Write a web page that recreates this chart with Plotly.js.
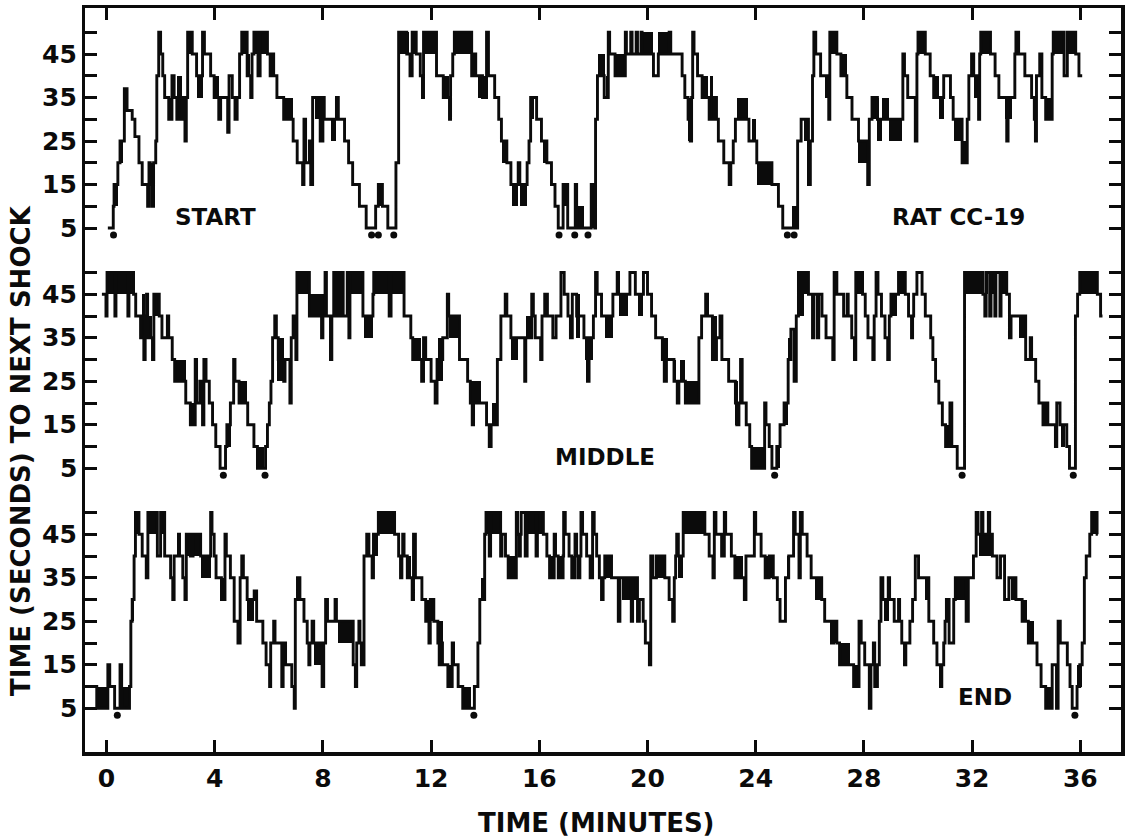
<!DOCTYPE html>
<html>
<head>
<meta charset="utf-8">
<script src="https://cdn.plot.ly/plotly-3.0.1.min.js"></script>
<style>html,body{margin:0;padding:0;background:#fff}#chart{width:1130px;height:837px}</style>
</head>
<body>
<div id="chart"></div>
<script>
// ---------- DATA (time in minutes, value = seconds to next shock) ----------
// step points: [minute, seconds] – value holds until next point
const topSteps = [[0.05,5],[0.25,10],[0.28,15],[0.42,20],[0.5,25],[0.66,37],[0.76,32],[0.95,30],[1.05,26],[1.2,20],[1.32,15],[1.52,10],[1.57,20],[1.62,15],[1.68,10],[1.74,20],[1.82,25],[1.86,40],[1.93,50],[2.0,45],[2.08,40],[2.15,35],[2.3,30],[2.42,40],[2.5,35],[2.6,30],[2.8,35],[2.9,25],[2.95,35],[3.0,50],[3.17,45],[3.33,40],[3.55,50],[3.62,45],[3.85,40],[3.98,35],[4.15,30],[4.22,35],[4.48,27],[4.53,40],[4.65,35],[4.75,30],[4.83,35],[4.92,45],[5.0,50],[5.2,40],[5.33,35],[5.38,45],[5.45,50],[5.6,40],[5.68,50],[5.95,45],[6.05,40],[6.12,45],[6.18,40],[6.3,35],[6.55,30],[6.9,25],[7.05,20],[7.25,15],[7.3,30],[7.36,20],[7.5,25],[7.55,15],[7.62,35],[7.9,25],[8.0,35],[8.05,30],[8.5,35],[8.57,30],[8.8,25],[8.95,20],[9.1,15],[9.35,10],[9.6,5],[9.95,10],[10.05,15],[10.2,10],[10.4,5],[10.7,20],[10.8,50],[11.1,45],[11.22,40],[11.3,50],[11.45,45],[11.6,40],[11.68,35],[11.72,50],[12.2,40],[12.45,35],[12.68,30],[12.72,40],[12.8,45],[12.86,50],[13.5,40],[13.6,45],[13.65,40],[13.9,35],[14.05,50],[14.12,40],[14.35,35],[14.5,30],[14.6,25],[14.8,20],[14.95,15],[15.22,20],[15.28,15],[15.55,20],[15.62,25],[15.68,35],[15.9,30],[16.08,25],[16.28,20],[16.45,15],[16.58,10],[16.7,5],[16.88,15],[17.05,5],[17.33,15],[17.38,5],[17.92,15],[18.05,5],[18.08,30],[18.15,40],[18.4,35],[18.55,50],[18.6,45],[18.8,40],[19.18,50],[19.22,45],[19.38,50],[19.43,45],[19.58,50],[19.63,45],[19.76,50],[19.8,45],[20.22,40],[20.4,45],[20.8,50],[20.86,45],[21.28,40],[21.38,35],[21.5,30],[21.58,25],[21.63,35],[21.67,50],[21.72,45],[21.85,40],[22.02,35],[22.28,30],[22.45,35],[22.55,30],[22.62,25],[22.82,20],[23.02,15],[23.08,20],[23.17,25],[23.25,30],[23.75,25],[24.04,20],[24.6,15],[24.84,10],[25.0,5],[25.55,25],[25.68,30],[25.95,15],[26.02,25],[26.1,40],[26.15,50],[26.22,45],[26.4,40],[26.7,30],[26.74,50],[27.0,45],[27.15,40],[27.37,35],[27.56,30],[27.8,25],[28.14,15],[28.2,30],[28.3,35],[28.5,30],[28.9,30],[29.44,45],[29.5,40],[29.62,35],[29.9,25],[29.96,45],[30.0,50],[30.27,45],[30.45,40],[30.58,35],[30.95,40],[31.2,35],[31.3,30],[31.63,20],[31.82,30],[31.88,40],[31.98,45],[32.06,40],[32.24,30],[32.28,45],[32.32,50],[32.68,45],[32.85,40],[32.99,35],[33.28,25],[33.33,35],[33.58,45],[33.62,50],[33.72,45],[33.95,40],[34.2,35],[34.3,30],[34.34,25],[34.38,40],[34.5,45],[34.58,35],[34.72,30],[34.96,45],[35.0,50],[35.4,40],[35.52,50],[35.83,45],[35.95,40],[36.07,40]];
// dense oscillation blocks: [start, end, low, high]
const topBands = [[0.27,0.42,10,15],[0.45,0.62,20,25],[1.52,1.8,15,20],[2.3,2.45,30,35],[2.62,2.78,30,40],[3.0,3.17,45,50],[3.35,3.55,35,40],[4.0,4.15,35,40],[5.0,5.2,45,50],[5.2,5.32,40,45],[5.45,5.6,45,50],[5.7,5.95,45,50],[6.6,6.9,30,35],[7.7,7.9,30,35],[8.3,8.5,25,30],[10.05,10.2,10,15],[10.83,11.2,45,50],[11.3,11.45,45,50],[11.72,12.2,45,50],[12.45,12.65,35,40],[12.86,13.5,45,50],[13.75,14.02,35,40],[14.62,14.8,20,25],[15.0,15.22,10,15],[15.3,15.55,10,15],[15.68,15.82,30,35],[16.12,16.25,20,25],[16.88,17.05,10,15],[17.42,17.65,5,10],[17.93,18.05,5,15],[18.17,18.42,40,45],[18.45,18.55,35,40],[18.79,19.16,40,45],[19.84,20.21,45,50],[20.4,20.77,45,50],[21.5,21.63,25,35],[22.0,22.25,35,40],[22.3,22.43,30,40],[23.0,23.1,15,20],[23.3,23.73,30,35],[23.85,24.0,25,30],[24.04,24.6,15,20],[25.33,25.52,5,10],[25.77,25.9,25,30],[26.57,26.75,35,40],[26.75,27.0,45,50],[27.12,27.37,40,45],[27.8,28.11,20,25],[28.3,28.54,30,35],[28.48,28.67,25,30],[28.67,28.91,30,35],[28.91,29.41,25,30],[30.02,30.27,45,50],[30.58,30.77,35,40],[30.77,30.95,30,35],[31.32,31.63,25,30],[31.63,31.8,20,25],[32.06,32.31,35,40],[32.31,32.68,45,50],[33.23,33.48,30,35],[34.72,34.96,30,35],[34.96,35.4,45,50],[35.52,35.83,45,50]];
const topShocks = [0.26,9.8,10.05,10.62,16.73,17.31,17.8,25.17,25.42];

const middleSteps = [[-0.17,45],[-0.02,40],[0.02,50],[0.31,40],[0.35,50],[0.79,40],[0.83,50],[1.0,45],[1.08,40],[1.26,35],[1.38,30],[1.43,40],[1.48,45],[1.52,35],[1.7,30],[1.75,45],[1.95,40],[2.05,35],[2.25,40],[2.3,35],[2.43,30],[2.52,25],[2.93,20],[3.1,15],[3.28,30],[3.33,20],[3.45,25],[3.55,15],[3.6,30],[3.68,25],[3.8,20],[3.92,15],[4.04,10],[4.2,5],[4.4,10],[4.45,15],[4.58,20],[4.7,30],[4.75,25],[4.9,20],[5.22,15],[5.45,10],[5.58,5],[5.88,10],[5.95,15],[6.02,20],[6.08,25],[6.14,35],[6.22,40],[6.28,35],[6.35,30],[6.55,25],[6.6,30],[6.78,20],[6.83,35],[6.9,40],[7.0,30],[7.04,50],[7.5,40],[7.95,35],[8.0,40],[8.08,50],[8.13,40],[8.28,30],[8.33,40],[8.4,50],[8.45,40],[8.55,50],[8.6,40],[8.7,50],[8.75,40],[8.9,50],[8.96,35],[9.0,50],[9.48,40],[9.85,45],[9.88,50],[10.45,40],[10.52,50],[11.0,40],[11.25,35],[11.32,30],[11.65,25],[11.72,35],[11.8,30],[12.0,25],[12.15,20],[12.22,30],[12.43,35],[12.6,45],[12.65,40],[13.05,30],[13.35,25],[13.45,20],[13.52,15],[13.57,20],[14.05,15],[14.15,10],[14.22,15],[14.45,30],[14.58,40],[14.74,45],[14.8,40],[14.95,35],[15.46,25],[15.5,35],[15.72,45],[15.78,40],[15.85,35],[16.05,30],[16.1,40],[16.2,45],[16.3,40],[16.5,35],[16.62,40],[16.8,50],[16.92,45],[17.06,40],[17.15,35],[17.22,45],[17.38,40],[17.65,35],[17.78,25],[17.84,35],[18.0,40],[18.08,50],[18.14,45],[18.3,40],[18.72,45],[18.88,50],[18.93,45],[19.35,50],[19.55,45],[19.85,50],[20.0,45],[20.15,40],[20.3,35],[20.55,30],[20.62,25],[20.7,30],[20.98,25],[21.1,20],[21.16,25],[21.4,20],[21.9,35],[22.0,40],[22.15,45],[22.22,40],[22.4,30],[22.55,35],[22.68,40],[22.75,30],[23.0,25],[23.25,20],[23.3,15],[23.38,20],[23.44,30],[23.5,20],[23.65,15],[23.78,10],[23.85,5],[24.33,20],[24.38,15],[24.5,10],[24.6,5],[24.78,10],[24.9,15],[25.05,20],[25.2,30],[25.3,37],[25.42,25],[25.5,40],[25.58,50],[25.95,45],[26.1,35],[26.15,45],[26.28,35],[26.33,45],[26.45,40],[26.6,35],[26.85,30],[26.9,50],[27.0,45],[27.25,40],[27.38,45],[27.42,40],[27.55,35],[27.65,30],[27.7,50],[27.95,45],[28.05,40],[28.15,35],[28.33,30],[28.38,40],[28.45,50],[28.52,45],[28.65,40],[28.78,35],[28.88,30],[28.94,40],[29.0,45],[29.28,50],[29.53,45],[29.65,40],[29.76,35],[29.8,40],[29.84,45],[29.96,50],[30.15,45],[30.27,40],[30.47,35],[30.55,30],[30.65,25],[30.77,20],[30.9,15],[31.02,10],[31.18,20],[31.25,10],[31.45,5],[31.72,50],[32.4,45],[32.47,40],[32.52,50],[32.65,40],[32.7,50],[32.84,40],[32.88,50],[33.03,40],[33.07,50],[33.28,45],[33.38,35],[33.44,40],[33.98,30],[34.15,35],[34.2,30],[34.35,25],[34.47,20],[34.62,15],[34.72,20],[34.8,15],[35.08,10],[35.13,20],[35.25,15],[35.5,10],[35.6,5],[35.82,40],[35.9,45],[35.98,50],[36.63,45],[36.75,40],[36.82,40]];
const middleBands = [[0.0,1.0,45,50],[1.3,1.42,35,45],[1.53,1.68,35,40],[1.78,1.94,40,45],[2.49,2.93,25,30],[3.09,3.27,15,20],[4.41,4.59,10,15],[4.9,5.21,20,25],[5.58,5.83,5,10],[6.32,6.57,25,35],[7.06,7.49,45,50],[7.49,7.99,40,45],[8.0,8.15,40,45],[9.04,9.47,45,50],[9.53,9.84,35,40],[9.88,10.4,45,50],[10.52,11.0,45,50],[11.3,11.63,30,35],[12.25,12.43,25,35],[12.68,13.05,35,40],[13.48,13.85,20,25],[14.25,14.41,15,20],[14.96,15.21,30,35],[15.52,15.7,35,40],[17.37,17.5,35,45],[17.68,17.99,30,35],[18.42,18.73,35,40],[18.96,19.28,40,45],[19.65,19.84,40,45],[20.52,20.77,30,35],[20.95,21.07,25,30],[21.2,21.38,25,30],[21.38,21.88,20,25],[22.37,22.56,30,40],[23.23,23.36,15,25],[23.85,24.3,5,10],[24.78,24.9,5,10],[25.09,25.2,15,20],[25.2,25.3,30,35],[25.58,25.77,40,50],[25.77,25.95,45,50],[27.74,27.93,45,50],[28.98,29.22,40,45],[29.28,29.53,45,50],[31.02,31.18,10,15],[31.72,32.37,45,50],[32.52,32.6,45,50],[32.75,32.8,45,50],[33.1,33.3,45,50],[33.73,33.98,35,40],[34.59,34.72,15,20],[35.3,35.45,10,15],[36.01,36.63,45,50]];
const middleShocks = [4.32,5.86,24.7,31.63,35.74];

const endSteps = [[-0.7,10],[-0.36,5],[0.05,15],[0.12,10],[0.3,5],[0.5,15],[0.56,5],[0.85,10],[0.9,25],[0.95,30],[1.02,40],[1.07,50],[1.2,45],[1.32,40],[1.47,35],[1.53,50],[1.88,40],[2.0,50],[2.15,40],[2.37,35],[2.45,30],[2.5,40],[2.66,45],[2.7,40],[2.82,35],[2.9,30],[2.95,45],[3.1,40],[3.2,45],[3.48,40],[3.85,50],[3.9,45],[3.98,40],[4.05,35],[4.25,30],[4.38,45],[4.43,40],[4.58,35],[4.72,25],[4.86,20],[4.94,35],[5.0,40],[5.06,35],[5.2,30],[5.46,32],[5.55,25],[5.78,20],[5.9,15],[6.03,10],[6.07,20],[6.18,25],[6.23,20],[6.48,10],[6.53,20],[6.62,15],[6.85,10],[6.94,5],[6.98,30],[7.06,35],[7.15,30],[7.3,25],[7.42,20],[7.48,15],[7.52,20],[7.6,25],[7.66,20],[7.97,10],[8.03,20],[8.1,30],[8.17,25],[8.45,30],[8.5,25],[9.12,15],[9.2,10],[9.25,20],[9.33,25],[9.37,20],[9.42,15],[9.52,40],[9.62,45],[9.7,40],[9.82,35],[9.87,45],[10.05,50],[10.65,45],[10.8,40],[10.87,35],[10.92,40],[10.95,45],[11.0,40],[11.12,35],[11.3,30],[11.35,45],[11.42,35],[11.66,30],[11.8,25],[11.92,20],[11.97,30],[12.1,25],[12.25,20],[12.3,15],[12.35,20],[12.42,15],[12.62,10],[12.78,20],[12.83,15],[13.0,10],[13.17,5],[13.6,10],[13.73,20],[13.8,30],[13.98,45],[14.03,50],[14.15,40],[14.2,50],[14.57,40],[14.62,45],[14.75,40],[14.85,35],[15.15,50],[15.2,45],[15.26,40],[15.3,45],[15.33,50],[15.48,40],[15.55,50],[15.88,40],[15.93,50],[16.15,45],[16.28,40],[16.38,35],[16.55,45],[16.6,40],[16.7,35],[16.88,40],[16.9,50],[16.96,45],[17.1,40],[17.2,35],[17.32,45],[17.38,40],[17.44,35],[17.5,40],[17.54,50],[17.6,45],[17.75,40],[17.88,35],[17.97,50],[18.03,45],[18.12,40],[18.22,35],[18.3,30],[18.36,35],[18.42,40],[18.67,35],[18.92,25],[18.98,35],[19.4,25],[19.45,35],[19.63,25],[19.7,30],[19.84,25],[19.92,20],[20.07,15],[20.12,40],[20.2,35],[20.33,40],[20.64,35],[20.8,30],[20.93,25],[20.99,35],[21.04,40],[21.08,45],[21.14,40],[21.32,50],[22.12,45],[22.28,40],[22.42,35],[22.47,50],[22.53,45],[22.74,40],[22.84,50],[22.89,45],[23.1,40],[23.23,35],[23.58,30],[23.64,40],[23.95,50],[24.0,45],[24.2,40],[24.35,35],[24.5,40],[24.65,35],[24.8,30],[24.9,25],[25.1,35],[25.22,40],[25.4,50],[25.46,45],[25.6,35],[25.65,50],[25.72,45],[25.9,40],[26.05,35],[26.44,30],[26.55,25],[26.8,20],[26.88,25],[27.0,20],[27.1,15],[27.55,15],[27.62,10],[27.82,25],[27.9,20],[28.03,15],[28.2,5],[28.26,15],[28.35,20],[28.4,10],[28.5,15],[28.57,25],[28.63,35],[28.7,30],[28.9,35],[28.95,30],[29.12,25],[29.28,30],[29.32,25],[29.4,20],[29.5,15],[29.55,20],[29.7,25],[29.8,30],[29.9,40],[30.02,35],[30.4,25],[30.58,20],[30.7,15],[30.83,10],[30.88,15],[30.95,20],[31.0,25],[31.05,30],[31.15,20],[31.32,30],[31.38,35],[31.78,25],[31.86,35],[32.05,40],[32.15,50],[32.22,45],[32.35,50],[32.4,45],[32.6,50],[32.65,45],[32.75,40],[32.92,35],[33.05,40],[33.2,30],[33.36,35],[33.62,30],[33.85,25],[34.08,20],[34.4,15],[34.55,10],[34.72,5],[34.96,15],[35.12,5],[35.18,25],[35.26,20],[35.52,15],[35.62,10],[35.7,5],[35.88,10],[35.98,15],[36.07,20],[36.15,35],[36.22,40],[36.35,45],[36.42,50],[36.62,45],[36.65,45]];
const endBands = [[-0.35,0.02,5,10],[0.58,0.83,5,10],[0.95,1.01,25,30],[1.07,1.2,45,50],[1.57,1.88,45,50],[2.0,2.12,45,50],[2.93,3.11,40,45],[3.23,3.48,40,45],[3.48,3.85,35,40],[4.22,4.35,30,35],[5.21,5.46,25,30],[7.68,7.93,15,20],[8.54,9.1,20,25],[9.87,10.05,40,45],[10.05,10.65,45,50],[11.12,11.26,35,40],[11.81,12.12,25,30],[12.25,12.43,20,25],[12.62,12.8,10,15],[13.17,13.48,5,10],[13.85,13.98,30,35],[14.04,14.57,45,50],[14.85,15.15,35,40],[15.58,16.14,45,50],[16.38,16.55,35,40],[16.69,16.88,35,40],[17.19,17.31,35,40],[18.42,18.67,35,40],[19.04,19.65,30,35],[20.33,20.64,35,40],[21.14,21.32,35,40],[21.32,22.12,45,50],[23.23,23.54,35,40],[24.35,24.65,35,40],[25.15,25.27,35,40],[26.2,26.44,30,35],[26.88,27.0,20,25],[27.12,27.49,15,20],[27.62,27.8,10,15],[28.73,28.91,25,30],[30.27,30.4,30,35],[31.38,31.75,30,35],[32.25,32.74,40,45],[33.42,33.6,30,35],[33.85,34.04,25,30],[34.1,34.28,20,25],[34.72,34.96,5,10],[35.89,36.07,10,15],[36.44,36.63,45,50]];
const endShocks = [0.4,13.58,35.8];

const panelLabels = ['START', 'MIDDLE', 'END'];
const ratLabel = 'RAT CC-19';
const xTickVals = [0,4,8,12,16,20,24,28,32,36];
const yTickVals = [5,10,15,20,25,30,35,40,45,50];
const yLabelVals = [5,15,25,35,45];
const yLabelText = ['5','15','25','35','45'];
const shockLevel = 3.4;

// ---------- LAYOUT GEOMETRY ----------
const W = 1130, H = 837;
const plotLeft = 85, plotRight = 1121, plotTop = 8, plotBottom = 752;
const pxPerSec = 4.35;
const fiveLevelPx = [228, 468.3, 708.3];   // pixel row of the "5" tick in each panel
const pxPerMin = 27.05, zeroPx = 106.5;
const xRange = [(plotLeft - zeroPx)/pxPerMin, (plotRight - zeroPx)/pxPerMin];
const yLabelRightPx = 78;

const ink = '#0b0b0b';
const font = 'DejaVu Sans, Verdana, sans-serif';

const panels = [
  {steps: topSteps, bands: topBands, shocks: topShocks, ax: 'y'},
  {steps: middleSteps, bands: middleBands, shocks: middleShocks, ax: 'y2'},
  {steps: endSteps, bands: endBands, shocks: endShocks, ax: 'y3'}
];

const traces = [];
panels.forEach(p => {
  traces.push({
    type: 'bar', yaxis: p.ax, xaxis: 'x',
    x: p.bands.map(b => (b[0]+b[1])/2),
    width: p.bands.map(b => b[1]-b[0]),
    base: p.bands.map(b => b[2]),
    y: p.bands.map(b => b[3]-b[2]),
    marker: {color: ink, line: {width: 0}},
    hoverinfo: 'skip', showlegend: false
  });
  traces.push({
    type: 'scatter', mode: 'lines', yaxis: p.ax, xaxis: 'x',
    x: p.steps.map(s => s[0]), y: p.steps.map(s => s[1]),
    line: {shape: 'hv', color: ink, width: 2.9},
    hoverinfo: 'skip', showlegend: false
  });
  traces.push({
    type: 'scatter', mode: 'markers', yaxis: p.ax, xaxis: 'x',
    x: p.shocks, y: p.shocks.map(() => shockLevel),
    marker: {color: ink, size: 7},
    hoverinfo: 'skip', showlegend: false
  });
});

function yAxis(i) {
  const p5 = fiveLevelPx[i];
  const ax = {
    domain: [0, 1],
    range: [5 - (plotBottom - p5)/pxPerSec, 5 + (p5 - plotTop)/pxPerSec],
    tickmode: 'array', tickvals: yTickVals, showticklabels: false,
    ticks: 'inside', ticklen: 12, tickwidth: 3, tickcolor: ink,
    showline: i === 0, linecolor: ink, linewidth: 3.5, mirror: 'ticks',
    showgrid: false, zeroline: false, fixedrange: true
  };
  if (i > 0) ax.overlaying = 'y';
  return ax;
}

const annFont = {family: font, size: 23, color: ink, weight: 'bold'};
const tickFont = {family: font, size: 25, color: ink, weight: 'bold'};
const annotations = [
  {text: panelLabels[0], x: 4.04, y: 7.5, xref: 'x', yref: 'y', showarrow: false,
   xanchor: 'center', yanchor: 'middle', font: annFont},
  {text: ratLabel, x: 31.5, y: 7.5, xref: 'x', yref: 'y', showarrow: false,
   xanchor: 'center', yanchor: 'middle', font: annFont},
  {text: panelLabels[1], x: 18.44, y: 7.6, xref: 'x', yref: 'y2', showarrow: false,
   xanchor: 'center', yanchor: 'middle', font: annFont},
  {text: panelLabels[2], x: 32.48, y: 7.6, xref: 'x', yref: 'y3', showarrow: false,
   xanchor: 'center', yanchor: 'middle', font: annFont},
  {text: 'TIME (SECONDS) TO NEXT SHOCK', textangle: -90,
   x: (21 - plotLeft)/(plotRight - plotLeft), y: (plotBottom - 451)/(plotBottom - plotTop),
   xref: 'paper', yref: 'paper', showarrow: false, xanchor: 'center', yanchor: 'middle',
   font: {family: font, size: 26, color: ink, weight: 'bold'}},
  {text: 'TIME (MINUTES)',
   x: (596 - plotLeft)/(plotRight - plotLeft), y: (plotBottom - 823)/(plotBottom - plotTop),
   xref: 'paper', yref: 'paper', showarrow: false, xanchor: 'center', yanchor: 'middle',
   font: {family: font, size: 26, color: ink, weight: 'bold'}}
];
// y tick labels for each of the three panels
['y','y2','y3'].forEach(ax => {
  yLabelVals.forEach((v, k) => annotations.push({
    text: yLabelText[k], x: (yLabelRightPx - plotLeft)/(plotRight - plotLeft), y: v,
    xref: 'paper', yref: ax, showarrow: false, xanchor: 'right', yanchor: 'middle',
    borderpad: 0, font: tickFont
  }));
});

const layout = {
  width: W, height: H,
  margin: {l: plotLeft, r: W - plotRight, t: plotTop, b: H - plotBottom, pad: 0},
  paper_bgcolor: '#ffffff', plot_bgcolor: '#ffffff',
  showlegend: false, barmode: 'overlay', bargap: 0,
  xaxis: {
    range: xRange, tickmode: 'array', tickvals: xTickVals,
    ticks: 'inside', ticklen: 12, tickwidth: 3, tickcolor: ink,
    showline: true, linecolor: ink, linewidth: 3.5, mirror: 'ticks',
    showgrid: false, zeroline: false, fixedrange: true,
    tickfont: tickFont, ticklabelstandoff: 1
  },
  yaxis: yAxis(0), yaxis2: yAxis(1), yaxis3: yAxis(2),
  annotations: annotations
};

Plotly.newPlot('chart', traces, layout, {displayModeBar: false, staticPlot: true});
</script>
</body>
</html>
